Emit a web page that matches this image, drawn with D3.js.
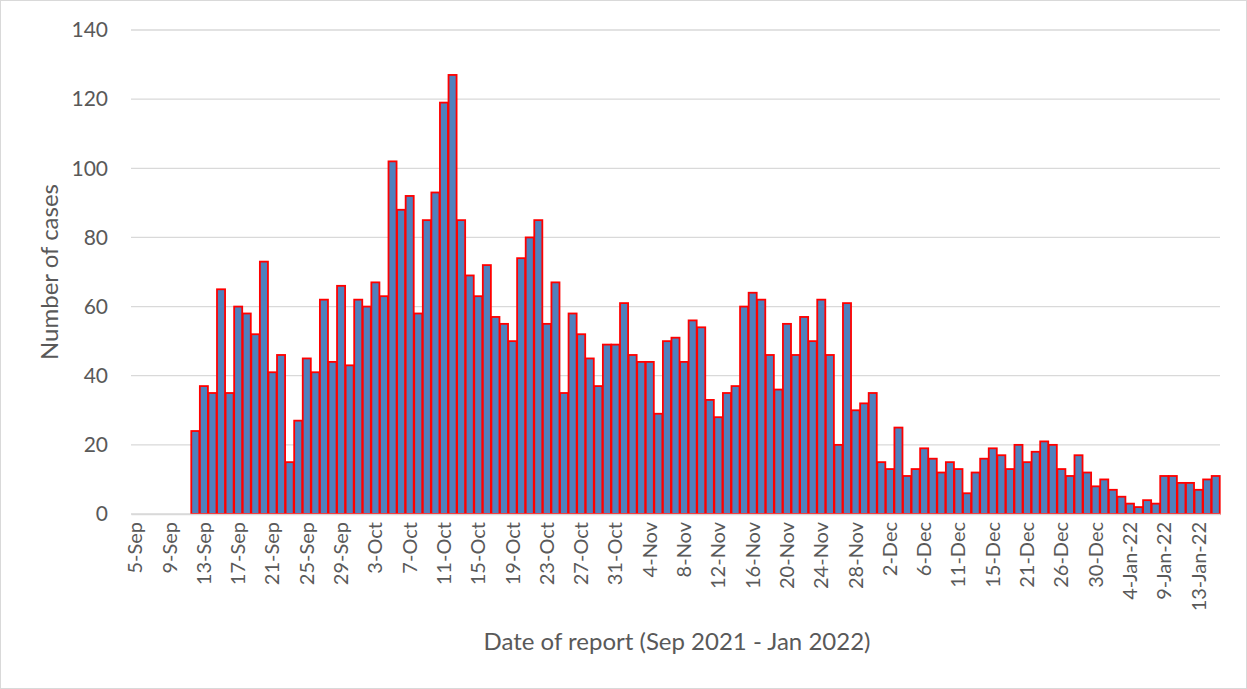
<!DOCTYPE html>
<html><head><meta charset="utf-8">
<script src="https://cdn.jsdelivr.net/npm/d3@7"></script>
<style>
html,body{margin:0;padding:0;background:#fff;}
svg{display:block;}
text{font-family:Lato,"Open Sans",sans-serif;fill:#595959;}
</style></head>
<body>
<script>
const categories = [
"5-Sep","6-Sep","7-Sep","8-Sep","9-Sep","10-Sep","11-Sep","12-Sep","13-Sep","14-Sep","15-Sep","16-Sep","17-Sep","18-Sep","19-Sep","20-Sep","21-Sep","22-Sep","23-Sep","24-Sep","25-Sep","26-Sep","27-Sep","28-Sep","29-Sep","30-Sep",
"1-Oct","2-Oct","3-Oct","4-Oct","5-Oct","6-Oct","7-Oct","8-Oct","9-Oct","10-Oct","11-Oct","12-Oct","13-Oct","14-Oct","15-Oct","16-Oct","17-Oct","18-Oct","19-Oct","20-Oct","21-Oct","22-Oct","23-Oct","24-Oct","25-Oct","26-Oct","27-Oct","28-Oct","29-Oct","30-Oct","31-Oct",
"1-Nov","2-Nov","3-Nov","4-Nov","5-Nov","6-Nov","7-Nov","8-Nov","9-Nov","10-Nov","11-Nov","12-Nov","13-Nov","14-Nov","15-Nov","16-Nov","17-Nov","18-Nov","19-Nov","20-Nov","21-Nov","22-Nov","23-Nov","24-Nov","25-Nov","26-Nov","27-Nov","28-Nov","29-Nov","30-Nov",
"1-Dec","2-Dec","3-Dec","4-Dec","5-Dec","6-Dec","7-Dec","8-Dec","9-Dec","11-Dec","12-Dec","13-Dec","14-Dec","15-Dec","16-Dec","17-Dec","20-Dec","21-Dec","22-Dec","23-Dec","24-Dec","26-Dec","27-Dec","28-Dec","29-Dec","30-Dec","31-Dec",
"2-Jan-22","3-Jan-22","4-Jan-22","5-Jan-22","6-Jan-22","7-Jan-22","9-Jan-22","10-Jan-22","11-Jan-22","12-Jan-22","13-Jan-22","14-Jan-22","15-Jan-22"
];
// cases (null = no report)
const cases = [
null,null,null,null,null,null,null,
24,37,35,65,35,60,58,52,73,41,46,15,27,45,41,62,44,66,43,62,60,67,63,
102,88,92,58,85,93,119,127,85,69,63,72,57,55,50,74,80,85,55,67,35,58,52,45,37,49,49,61,46,44,44,29,
50,51,44,56,54,33,28,35,37,60,64,62,46,36,55,46,57,50,62,46,20,61,30,32,35,
15,13,25,11,13,19,16,12,15,13,6,12,16,19,17,13,20,15,18,21,20,13,11,17,12,8,10,
7,5,3,2,4,3,11,11,9,9,7,10,11
];
const yTicks = [0,20,40,60,80,100,120,140];
const yTitle = "Number of cases";
const xTitle = "Date of report (Sep 2021 - Jan 2022)";

const W = 1247, H = 689;
const m = {left:131, right:27, top:30, bottom:175};
const svg = d3.select("body").append("svg").attr("width",W).attr("height",H);
svg.append("rect").attr("x",0.5).attr("y",0.5).attr("width",W-1).attr("height",H-1)
  .attr("fill","#fff").attr("stroke","#d9d9d9");

const x = d3.scaleBand().domain(categories).range([m.left, W-m.right]).paddingInner(0.06).paddingOuter(0.03);
const y = d3.scaleLinear().domain([0,140]).range([H-m.bottom, m.top]);

// gridlines
svg.append("g").selectAll("line").data(yTicks).join("line")
  .attr("x1",m.left).attr("x2",W-m.right)
  .attr("y1",d=>y(d)).attr("y2",d=>y(d))
  .attr("stroke","#d9d9d9").attr("stroke-width",1.3);

// y axis labels
const yAxis = d3.axisLeft(y).tickValues(yTicks).tickSize(0).tickPadding(23);
const gy = svg.append("g").attr("transform",`translate(${m.left},0)`).call(yAxis);
gy.select(".domain").remove();
gy.selectAll("text").style("font-size","21px").attr("fill","#595959");

// bars
const data = categories.map((c,i)=>({c, v:cases[i]})).filter(d=>d.v!=null);
svg.append("g").selectAll("rect").data(data).join("rect")
  .attr("x",d=>x(d.c)).attr("width",x.bandwidth())
  .attr("y",d=>y(d.v)).attr("height",d=>y(0)-y(d.v))
  .attr("fill","#4f81bd").attr("stroke","#ff0000").attr("stroke-width",1.8);

// x axis
const xAxis = d3.axisBottom(x).tickValues(categories.filter((c,i)=>i%4===0)).tickSize(0).tickPadding(8);
const gx = svg.append("g").attr("transform",`translate(0,${y(0)})`).call(xAxis);
gx.select(".domain").attr("stroke","#d9d9d9").attr("stroke-width",1.3);
gx.selectAll("text")
  .style("font-size","20px").attr("fill","#595959")
  .attr("text-anchor","end")
  .attr("transform","rotate(-90)")
  .attr("x",-8).attr("y",0).attr("dy","0.35em");

// titles
svg.append("text").attr("x",677).attr("y",650).attr("text-anchor","middle")
  .style("font-size","24px").text(xTitle);
svg.append("text").attr("transform",`translate(58,${y(70)}) rotate(-90)`).attr("text-anchor","middle")
  .style("font-size","24px").text(yTitle);
</script>
</body></html>
